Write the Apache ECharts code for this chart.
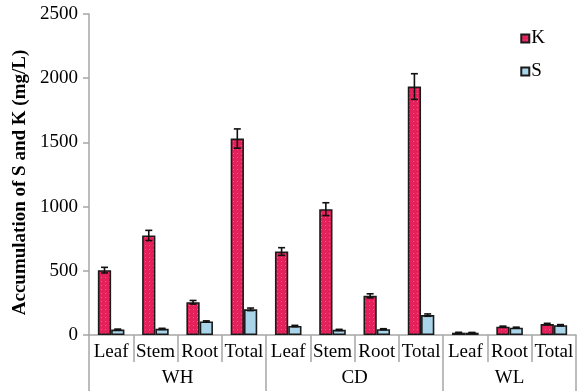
<!DOCTYPE html>
<html>
<head>
<meta charset="utf-8">
<script src="https://cdn.jsdelivr.net/npm/echarts@6/dist/echarts.min.js"></script>
<style>
  html, body { margin: 0; padding: 0; background: #fff; }
  #chart { width: 577px; height: 391px; }
</style>
</head>
<body>
<div id="chart"></div>
<script>
// Tissue categories along the x axis and the site each belongs to
const categories = ['Leaf', 'Stem', 'Root', 'Total', 'Leaf', 'Stem', 'Root', 'Total', 'Leaf', 'Root', 'Total'];
const groups = ['WH', 'CD', 'WL'];
const groupCenters = [2, 6, 9.5];
const groupBounds = [0, 4, 8, 11];

// Accumulation (mg/L) and standard errors
const kValues = [505, 775, 255, 1530, 650, 980, 305, 1935, 18, 65, 85];
const kErr    = [22, 40, 14, 75, 30, 50, 16, 100, 3, 4, 6];
const sValues = [42, 48, 105, 200, 70, 40, 45, 155, 18, 57, 76];
const sErr    = [4, 4, 5, 10, 5, 4, 4, 9, 2, 4, 5];

const yTicks = [0, 500, 1000, 1500, 2000, 2500];

const serif = '"Liberation Serif", "Times New Roman", serif';

// Crimson fill with faint pink dots
function dotPattern() {
  const c = document.createElement('canvas');
  c.width = 4; c.height = 4;
  const g = c.getContext('2d');
  g.fillStyle = '#e4215a';
  g.fillRect(0, 0, 4, 4);
  g.fillStyle = '#f0618a';
  g.fillRect(1, 1, 1, 1);
  return c;
}
const kColor = { image: dotPattern(), repeat: 'repeat' };
const sColor = '#a9d4ea';

function errorSeries(values, errs, side) {
  return {
    type: 'custom',
    xAxisIndex: 0,
    z: 5,
    silent: true,
    data: values.map((v, i) => [i, v, errs[i]]),
    renderItem: function (params, api) {
      const i = api.value(0);
      const band = api.size([1, 0])[0];
      const x = api.coord([i, 0])[0] + side * band * 0.15;
      const hi = api.coord([i, api.value(1) + api.value(2)])[1];
      const lo = api.coord([i, api.value(1) - api.value(2)])[1];
      const w = 3.5;
      const st = { stroke: '#111', lineWidth: 1.6 };
      return {
        type: 'group',
        children: [
          { type: 'line', shape: { x1: x, y1: hi, x2: x, y2: lo }, style: st },
          { type: 'line', shape: { x1: x - w, y1: hi, x2: x + w, y2: hi }, style: st },
          { type: 'line', shape: { x1: x - w, y1: lo, x2: x + w, y2: lo }, style: st }
        ]
      };
    }
  };
}

const chart = echarts.init(document.getElementById('chart'), null, { renderer: 'canvas' });

chart.setOption({
  animation: false,
  textStyle: { fontFamily: serif },
  grid: { left: 89, right: 1, top: 14, bottom: 56, containLabel: false },
  legend: {
    orient: 'vertical',
    right: 27,
    top: 24,
    itemWidth: 8,
    itemHeight: 8,
    itemGap: 14,
    icon: 'rect',
    textStyle: { fontFamily: serif, fontSize: 19, color: '#000', padding: [0, 0, 0, -3] },
    data: ['K', 'S']
  },
  xAxis: [
    {
      type: 'category',
      data: categories,
      position: 'bottom',
      axisLine: { show: true, lineStyle: { color: '#a6a6a6', width: 1.5 } },
      axisTick: { show: true, length: 27, lineStyle: { color: '#a6a6a6', width: 1.5 } },
      axisLabel: { fontFamily: serif, fontSize: 19, color: '#000', margin: 8, interval: 0 }
    },
    {
      type: 'value',
      position: 'bottom',
      min: 0,
      max: 11,
      axisLine: { show: false },
      splitLine: { show: false },
      axisTick: {
        show: true,
        length: 57,
        customValues: groupBounds,
        lineStyle: { color: '#a6a6a6', width: 1.5 }
      },
      axisLabel: {
        show: true,
        fontFamily: serif,
        fontSize: 19,
        color: '#000',
        margin: 34,
        customValues: groupCenters,
        formatter: function (v) {
          const idx = groupCenters.indexOf(v);
          return idx >= 0 ? groups[idx] : '';
        }
      }
    }
  ],
  yAxis: {
    type: 'value',
    min: 0,
    max: 2500,
    interval: 500,
    name: 'Accumulation of S and K (mg/L)',
    nameLocation: 'middle',
    nameRotate: 90,
    nameGap: 57,
    nameTextStyle: {
      fontFamily: serif, fontSize: 19, fontWeight: 'bold', color: '#000',
      padding: [0, 16, 0, 0]
    },
    axisLine: { show: true, lineStyle: { color: '#a6a6a6', width: 1.5 } },
    axisTick: { show: true, length: 6, lineStyle: { color: '#a6a6a6', width: 1.5 } },
    axisLabel: {
      fontFamily: serif, fontSize: 19, color: '#000', margin: 11,
      customValues: yTicks,
      formatter: function (v) { return String(v); }
    },
    splitLine: { show: false }
  },
  series: [
    {
      name: 'K',
      type: 'bar',
      xAxisIndex: 0,
      data: kValues,
      barGap: '0%',
      barCategoryGap: '40%',
      itemStyle: { color: kColor, borderColor: '#1a1a1a', borderWidth: 1.6 }
    },
    {
      name: 'S',
      type: 'bar',
      xAxisIndex: 0,
      data: sValues,
      barGap: '0%',
      barCategoryGap: '40%',
      itemStyle: { color: sColor, borderColor: '#1a1a1a', borderWidth: 1.6 }
    },
    errorSeries(kValues, kErr, -1),
    errorSeries(sValues, sErr, 1)
  ]
});
</script>
</body>
</html>
